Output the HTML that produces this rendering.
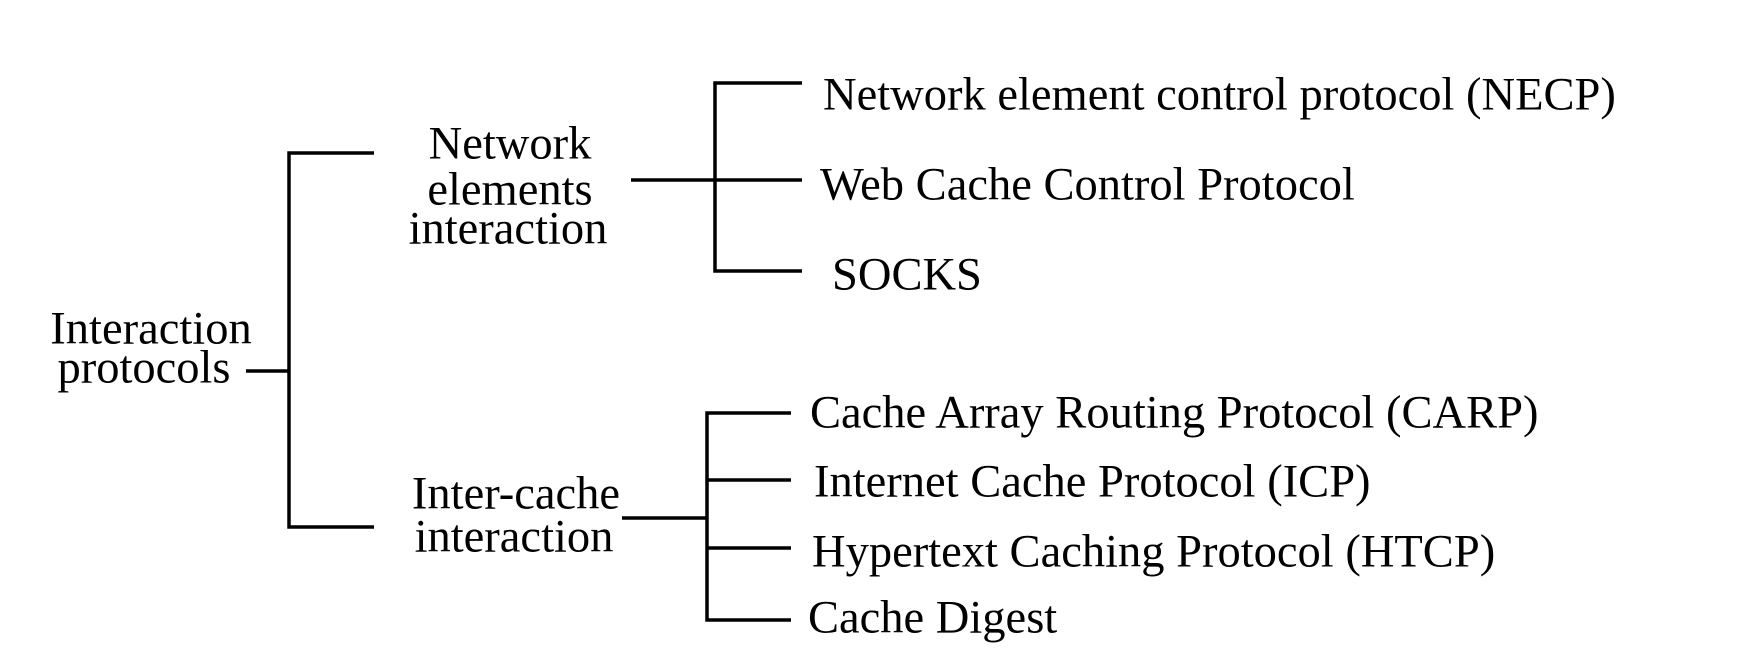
<!DOCTYPE html>
<html><head><meta charset="utf-8"><style>
html,body{margin:0;padding:0;background:#fff;width:1751px;height:672px;overflow:hidden}
text{font-family:"Liberation Serif",serif;font-size:46.5px;fill:#000}
</style></head><body>
<svg width="1751" height="672" viewBox="0 0 1751 672" xmlns="http://www.w3.org/2000/svg">
<g stroke="#000" stroke-width="3.5" fill="none">
<path d="M246 371H289M374 153H289V527H374"/>
<path d="M631 180H802M802 83H715V271H802"/>
<path d="M622 518H707M791 413H707V620H791M707 480H791M707 548H791"/>
</g>
<g text-anchor="middle" dominant-baseline="central">
<text x="151" y="329">Interaction</text>
<text x="144" y="368">protocols</text>
<text x="510" y="144">Network</text>
<text x="510" y="190">elements</text>
<text x="508" y="229">interaction</text>
<text x="516" y="494">Inter-cache</text>
<text x="514" y="537">interaction</text>
</g>
<g dominant-baseline="central">
<text x="823" y="95">Network element control protocol (NECP)</text>
<text x="820" y="185">Web Cache Control Protocol</text>
<text x="832" y="275">SOCKS</text>
<text x="810" y="413">Cache Array Routing Protocol (CARP)</text>
<text x="814" y="482">Internet Cache Protocol (ICP)</text>
<text x="812" y="552">Hypertext Caching Protocol (HTCP)</text>
<text x="808" y="618">Cache Digest</text>
</g>
</svg>
</body></html>
